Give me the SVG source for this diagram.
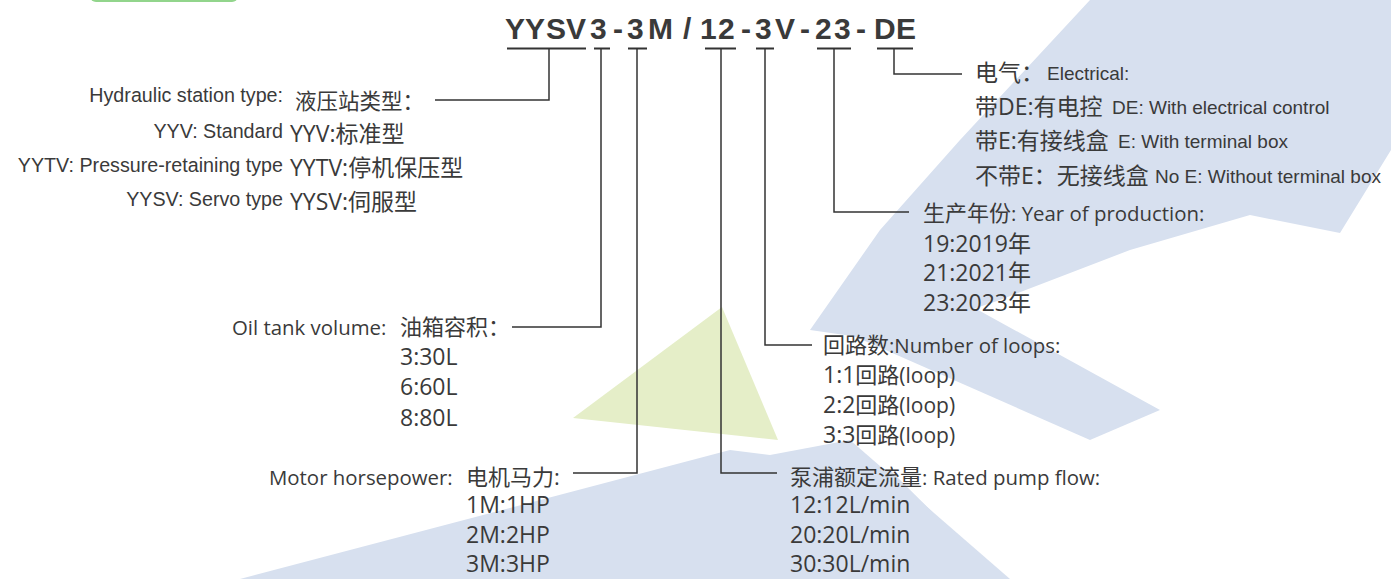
<svg xmlns="http://www.w3.org/2000/svg" width="1391" height="579" viewBox="0 0 1391 579">
<style>
.wm{fill:#d7e0ef}
.wg{fill:#e5eec8}
.t{fill:#3a3a3a}
.ar{font-family:"Liberation Sans",Arial,"Noto Sans CJK SC",sans-serif}
.os{font-family:"Open Sans","Noto Sans CJK SC",sans-serif}
.ul{stroke:#333;stroke-width:2;fill:none}
.cn{stroke:#333;stroke-width:1.5;fill:none}
</style>
<rect width="1391" height="579" fill="#ffffff"/>
<g id="watermark">
<polygon class="wm" points="1090,0 1391,0 1391,150 1340,233 1250,215 1130,250 1000,300 880,340 810,330 880,230 960,140"/>
<polygon class="wm" points="840,330 960,300 1160,410 1090,440"/>
<polygon class="wm" points="240,579 730,450 890,470 1000,579"/>
<polygon class="wm" points="770,455 850,440 1010,579 930,579"/>
<polygon class="wg" points="573,418 722,307 778,440"/>
<rect x="90" y="-20" width="148" height="22" rx="6" fill="#92d58c"/>
</g>
<g id="title">
<text class="t ar" font-size="30" font-weight="700" y="39"><tspan x="505 525 546 566 590 613 627 648">YYSV3-3M</tspan><tspan x="683">/</tspan><tspan x="700 718 741 755 775 800 815 834 856 874 896">12-3V-23-DE</tspan></text>
<path class="ul" d="M507,48.5H586M594,48.5H610M628,48.5H647M705,48.5H736M756,48.5H774M817,48.5H851M877,48.5H913"/>
</g>
<g id="connectors">
<path class="cn" d="M549,48V100H435"/>
<path class="cn" d="M601,48V327H512"/>
<path class="cn" d="M637,48V473H573"/>
<path class="cn" d="M721,48V473H777"/>
<path class="cn" d="M765,48V345H812"/>
<path class="cn" d="M834,48V212H909"/>
<path class="cn" d="M894,48V74H962"/>
</g>
<g id="station-type">
<g class="t ar" font-size="19.7" text-anchor="end">
<text x="283" y="102">Hydraulic station type:</text>
<text x="283" y="138">YYV: Standard</text>
<text x="283" y="172">YYTV: Pressure-retaining type</text>
<text x="283" y="206">YYSV: Servo type</text>
</g>
<g class="t os">
<text x="295" y="109" font-size="21.5">液压站类型：</text>
<text x="290" y="142" font-size="23">YYV:标准型</text>
<text x="290" y="176" font-size="23">YYTV:停机保压型</text>
<text x="290" y="210" font-size="23">YYSV:伺服型</text>
</g>
</g>
<g id="electrical">
<g class="t os" font-size="23">
<text x="975" y="81">电气：</text>
<text x="975" y="115">带DE:有电控</text>
<text x="975" y="149">带E:有接线盒</text>
<text x="975" y="184">不带E：无接线盒</text>
</g>
<g class="t ar" font-size="19">
<text x="1047" y="80">Electrical:</text>
<text x="1112" y="114">DE: With electrical control</text>
<text x="1118" y="148">E: With terminal box</text>
<text x="1155" y="183">No E: Without terminal box</text>
</g>
</g>
<g id="year" class="t os">
<text x="923" y="221" font-size="22">生产年份<tspan font-size="20.4">: Year of production:</tspan></text>
<text x="923" y="252" font-size="23">19:2019年</text>
<text x="923" y="281" font-size="23">21:2021年</text>
<text x="923" y="311" font-size="23">23:2023年</text>
</g>
<g id="oil-tank" class="t os">
<text x="232" y="335" font-size="20.4">Oil tank volume:</text>
<text x="400" y="335" font-size="22">油箱容积：</text>
<text x="400" y="365" font-size="23">3:30L</text>
<text x="400" y="395" font-size="23">6:60L</text>
<text x="400" y="426" font-size="23">8:80L</text>
</g>
<g id="loops" class="t os">
<text x="823" y="353" font-size="22">回路数<tspan font-size="20.4">:Number of loops:</tspan></text>
<text x="823" y="383" font-size="23">1:1<tspan font-size="22">回路</tspan><tspan font-size="21">(loop)</tspan></text>
<text x="823" y="413" font-size="23">2:2<tspan font-size="22">回路</tspan><tspan font-size="21">(loop)</tspan></text>
<text x="823" y="443" font-size="23">3:3<tspan font-size="22">回路</tspan><tspan font-size="21">(loop)</tspan></text>
</g>
<g id="motor" class="t os">
<text x="269" y="485" font-size="20.4">Motor horsepower:</text>
<text x="466" y="485" font-size="22">电机马力:</text>
<text x="466" y="513" font-size="23">1M:1HP</text>
<text x="466" y="543" font-size="23">2M:2HP</text>
<text x="466" y="572" font-size="23">3M:3HP</text>
</g>
<g id="pump" class="t os">
<text x="790" y="485" font-size="22">泵浦额定流量<tspan font-size="20.4">: Rated pump flow:</tspan></text>
<text x="790" y="513" font-size="23">12:12L/min</text>
<text x="790" y="543" font-size="23">20:20L/min</text>
<text x="790" y="572" font-size="23">30:30L/min</text>
</g>
</svg>
